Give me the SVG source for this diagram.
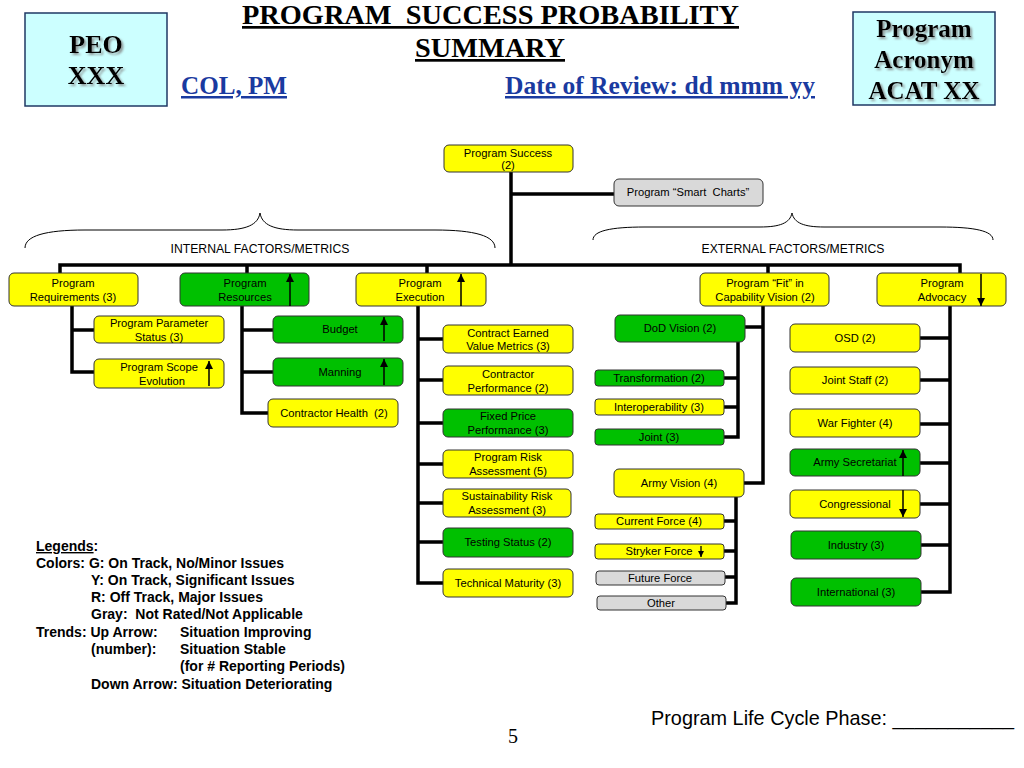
<svg xmlns="http://www.w3.org/2000/svg" width="1024" height="768" viewBox="0 0 1024 768">
<style>
.y{fill:#ffff00;stroke:#333;stroke-width:1}
.g{fill:#00c000;stroke:#333;stroke-width:1}
.gr{fill:#d9d9d9;stroke:#333;stroke-width:1}
.t{font-family:"Liberation Sans",Arial,sans-serif;font-size:11.2px;text-anchor:middle;fill:#000;white-space:pre}
.c{stroke:#000;stroke-width:3.5;fill:none;stroke-linejoin:miter}
.ar{stroke:#000;stroke-width:1.5;fill:none;marker-end:url(#ah)}
.hd{font-family:"Liberation Serif","Times New Roman",serif;font-weight:bold;fill:#000}
.lg{font-family:"Liberation Sans",Arial,sans-serif;font-weight:bold;font-size:14px;fill:#000}
.hb{fill:#ccffff;stroke:#1f3864;stroke-width:1.5}
.br{stroke:#000;stroke-width:1;fill:none}
</style>
<defs>
<marker id="ah" viewBox="0 0 8 8" refX="8" refY="4" markerWidth="8" markerHeight="8" markerUnits="userSpaceOnUse" orient="auto">
<path d="M0,0 L8,4 L0,8 z" fill="#000"/>
</marker>
<marker id="ahs" viewBox="0 0 8 8" refX="8" refY="4" markerWidth="6" markerHeight="6" markerUnits="userSpaceOnUse" orient="auto">
<path d="M0,0 L8,4 L0,8 z" fill="#000"/>
</marker>
<filter id="sh" x="-20%" y="-20%" width="140%" height="140%">
<feDropShadow dx="2" dy="2" stdDeviation="1" flood-color="#808080" flood-opacity="0.8"/>
</filter>
</defs>
<rect width="1024" height="768" fill="#fff"/>

<g id="header">
<rect class="hb" x="25" y="13" width="142" height="93"/>
<text class="hd" font-size="26" text-anchor="middle" filter="url(#sh)"><tspan x="96" y="53">PEO</tspan><tspan x="96" y="84">XXX</tspan></text>
<rect class="hb" x="853" y="12" width="142" height="93"/>
<text class="hd" font-size="25" text-anchor="middle" filter="url(#sh)"><tspan x="924" y="37">Program</tspan><tspan x="924" y="68">Acronym</tspan><tspan x="924" y="99">ACAT XX</tspan></text>
<text class="hd" font-size="27" x="242" y="24" textLength="497" lengthAdjust="spacingAndGlyphs" text-decoration="underline" style="white-space:pre">PROGRAM  SUCCESS PROBABILITY</text>
<text class="hd" font-size="27" x="415" y="57" textLength="150" lengthAdjust="spacingAndGlyphs" text-decoration="underline">SUMMARY</text>
<text class="hd" font-size="25" x="181" y="94" style="fill:#1a3aa0" textLength="106" lengthAdjust="spacingAndGlyphs" text-decoration="underline">COL, PM</text>
<text class="hd" font-size="25" x="505" y="94" style="fill:#1a3aa0" textLength="310" lengthAdjust="spacingAndGlyphs" text-decoration="underline">Date of Review: dd mmm yy</text>
</g>

<g id="braces">
<path class="br" d="M25,248 C25,236 45,230 85,230 L222,230 C246,230 258,225 260,213 C262,225 274,230 298,230 L435,230 C475,230 495,236 495,248"/>
<text class="t" style="font-size:12.2px" x="260" y="253">INTERNAL FACTORS/METRICS</text>
<path class="br" d="M593,240 C593,231 610,227 645,227 L760,227 C780,227 790,223 792,213 C794,223 804,227 824,227 L940,227 C975,227 993,231 993,240"/>
<text class="t" style="font-size:12.2px" x="793" y="253">EXTERNAL FACTORS/METRICS</text>
</g>

<g id="connectors">
<path class="c" d="M511,172 V265"/>
<path class="c" d="M511,194 H614"/>
<path class="c" d="M60,273 V265 H960 V273"/>
<path class="c" d="M247,265 V273 M427,265 V273 M768,265 V273"/>
<path class="c" d="M72,306 V372 H94 M72,330 H94"/>
<path class="c" d="M242,306 V413 H268 M242,330 H273 M242,372 H273"/>
<path class="c" d="M418,306 V583 H443 M418,339 H443 M418,380 H443 M418,423 H443 M418,464 H443 M418,503 H443 M418,542 H443"/>
<path class="c" d="M763,306 V483 H744 M745,327 H763"/>
<path class="c" d="M738,342 V437 H724 M724,378 H738 M724,407 H738"/>
<path class="c" d="M736,497 V603 H726 M724,521 H736 M724,551 H736 M725,577 H736"/>
<path class="c" d="M950,306 V592 H921 M920,338 H950 M920,380 H950 M920,424 H950 M920,463 H950 M920,504 H950 M921,545 H950"/>
</g>

<g id="n-program-success"><rect class="y" x="444" y="145" width="129" height="27" rx="5"/><text class="t"><tspan x="508" y="157">Program Success</tspan><tspan x="508" y="169">(2)</tspan></text></g>
<g id="n-smart-charts"><rect class="gr" x="614" y="179" width="149" height="27" rx="5"/><text class="t" x="688" y="196">Program “Smart  Charts”</text></g>

<g id="n-requirements"><rect class="y" x="9" y="273" width="129" height="33" rx="5"/><text class="t"><tspan x="73" y="287">Program</tspan><tspan x="73" y="301">Requirements (3)</tspan></text></g>
<g id="n-resources"><rect class="g" x="180" y="273" width="129" height="33" rx="5"/><text class="t"><tspan x="245" y="287">Program</tspan><tspan x="245" y="301">Resources</tspan></text><line class="ar" x1="290" y1="306" x2="290" y2="274"/></g>
<g id="n-execution"><rect class="y" x="356" y="273" width="130" height="33" rx="5"/><text class="t"><tspan x="420" y="287">Program</tspan><tspan x="420" y="301">Execution</tspan></text><line class="ar" x1="461" y1="306" x2="461" y2="274"/></g>
<g id="n-fit"><rect class="y" x="700" y="273" width="129" height="33" rx="5"/><text class="t"><tspan x="765" y="287">Program “Fit” in</tspan><tspan x="765" y="301">Capability Vision (2)</tspan></text></g>
<g id="n-advocacy"><rect class="y" x="877" y="273" width="129" height="33" rx="5"/><text class="t"><tspan x="942" y="287">Program</tspan><tspan x="942" y="301">Advocacy</tspan></text><line class="ar" x1="981" y1="274" x2="981" y2="306"/></g>

<g id="n-param-status"><rect class="y" x="94" y="316" width="130" height="27" rx="5"/><text class="t"><tspan x="159" y="327">Program Parameter</tspan><tspan x="159" y="341">Status (3)</tspan></text></g>
<g id="n-scope"><rect class="y" x="94" y="359" width="130" height="29" rx="5"/><text class="t"><tspan x="159" y="371">Program Scope</tspan><tspan x="162" y="385">Evolution</tspan></text><line class="ar" x1="209" y1="386" x2="209" y2="361"/></g>
<g id="n-budget"><rect class="g" x="273" y="316" width="130" height="27" rx="5"/><text class="t" x="340" y="333">Budget</text><line class="ar" x1="384" y1="341" x2="384" y2="317"/></g>
<g id="n-manning"><rect class="g" x="273" y="358" width="130" height="28" rx="5"/><text class="t" x="340" y="376">Manning</text><line class="ar" x1="384" y1="385" x2="384" y2="359"/></g>
<g id="n-contractor-health"><rect class="y" x="268" y="399" width="130" height="28" rx="5"/><text class="t" x="334" y="417">Contractor Health  (2)</text></g>

<g id="n-cev"><rect class="y" x="443" y="325" width="130" height="28" rx="5"/><text class="t"><tspan x="508" y="337">Contract Earned</tspan><tspan x="508" y="350">Value Metrics (3)</tspan></text></g>
<g id="n-cp"><rect class="y" x="443" y="366" width="130" height="29" rx="5"/><text class="t"><tspan x="508" y="378">Contractor</tspan><tspan x="508" y="392">Performance (2)</tspan></text></g>
<g id="n-fpp"><rect class="g" x="443" y="409" width="130" height="28" rx="5"/><text class="t"><tspan x="508" y="420">Fixed Price</tspan><tspan x="508" y="434">Performance (3)</tspan></text></g>
<g id="n-pra"><rect class="y" x="443" y="450" width="130" height="28" rx="5"/><text class="t"><tspan x="508" y="461">Program Risk</tspan><tspan x="508" y="475">Assessment (5)</tspan></text></g>
<g id="n-sra"><rect class="y" x="443" y="489" width="128" height="28" rx="5"/><text class="t"><tspan x="507" y="500">Sustainability Risk</tspan><tspan x="507" y="514">Assessment (3)</tspan></text></g>
<g id="n-testing"><rect class="g" x="443" y="528" width="130" height="29" rx="5"/><text class="t" x="508" y="546">Testing Status (2)</text></g>
<g id="n-tech"><rect class="y" x="443" y="569" width="130" height="28" rx="5"/><text class="t" x="508" y="587">Technical Maturity (3)</text></g>

<g id="n-dod"><rect class="g" x="615" y="315" width="130" height="27" rx="5"/><text class="t" x="680" y="332">DoD Vision (2)</text></g>
<g id="n-transformation"><rect class="g" x="595" y="370" width="129" height="16" rx="3"/><text class="t" x="659" y="382">Transformation (2)</text></g>
<g id="n-interop"><rect class="y" x="595" y="399" width="129" height="16" rx="3"/><text class="t" x="659" y="411">Interoperability (3)</text></g>
<g id="n-joint"><rect class="g" x="595" y="429" width="129" height="16" rx="3"/><text class="t" x="659" y="441">Joint (3)</text></g>
<g id="n-army-vision"><rect class="y" x="614" y="469" width="130" height="28" rx="5"/><text class="t" x="679" y="487">Army Vision (4)</text></g>
<g id="n-current"><rect class="y" x="595" y="514" width="129" height="15" rx="3"/><text class="t" x="659" y="525">Current Force (4)</text></g>
<g id="n-stryker"><rect class="y" x="595" y="544" width="129" height="15" rx="3"/><text class="t" x="659" y="555">Stryker Force</text><line x1="701" y1="546" x2="701" y2="557" stroke="#000" stroke-width="1.3" marker-end="url(#ahs)"/></g>
<g id="n-future"><rect class="gr" x="596" y="571" width="129" height="14" rx="3"/><text class="t" x="660" y="582">Future Force</text></g>
<g id="n-other"><rect class="gr" x="597" y="596" width="129" height="14" rx="3"/><text class="t" x="661" y="607">Other</text></g>

<g id="n-osd"><rect class="y" x="790" y="324" width="130" height="28" rx="5"/><text class="t" x="855" y="342">OSD (2)</text></g>
<g id="n-joint-staff"><rect class="y" x="790" y="367" width="130" height="27" rx="5"/><text class="t" x="855" y="384">Joint Staff (2)</text></g>
<g id="n-war-fighter"><rect class="y" x="790" y="409" width="130" height="28" rx="5"/><text class="t" x="855" y="427">War Fighter (4)</text></g>
<g id="n-army-sec"><rect class="g" x="790" y="449" width="130" height="27" rx="5"/><text class="t" x="855" y="466">Army Secretariat</text><line class="ar" x1="903" y1="476" x2="903" y2="450"/></g>
<g id="n-congressional"><rect class="y" x="790" y="490" width="130" height="28" rx="5"/><text class="t" x="855" y="508">Congressional</text><line class="ar" x1="903" y1="490" x2="903" y2="517"/></g>
<g id="n-industry"><rect class="g" x="791" y="531" width="130" height="28" rx="5"/><text class="t" x="856" y="549">Industry (3)</text></g>
<g id="n-international"><rect class="g" x="791" y="578" width="130" height="28" rx="5"/><text class="t" x="856" y="596">International (3)</text></g>

<g id="legend">
<text class="lg" x="36" y="551"><tspan text-decoration="underline">Legends</tspan>:</text>
<text class="lg" x="36" y="568">Colors: G: On Track, No/Minor Issues</text>
<text class="lg" x="91" y="585">Y: On Track, Significant Issues</text>
<text class="lg" x="91" y="602">R: Off Track, Major Issues</text>
<text class="lg" x="91" y="619" style="white-space:pre">Gray:  Not Rated/Not Applicable</text>
<text class="lg" x="36" y="637">Trends: Up Arrow:</text>
<text class="lg" x="180" y="637">Situation Improving</text>
<text class="lg" x="91" y="654">(number):</text>
<text class="lg" x="180" y="654">Situation Stable</text>
<text class="lg" x="180" y="671">(for # Reporting Periods)</text>
<text class="lg" x="91" y="689">Down Arrow: Situation Deteriorating</text>
</g>

<g id="footer">
<text x="651" y="725" font-family="Liberation Sans, Arial, sans-serif" font-size="19.8" textLength="363" lengthAdjust="spacingAndGlyphs" fill="#000">Program Life Cycle Phase: ___________</text>
<text x="513" y="743" font-family="Liberation Serif, Times New Roman, serif" font-size="20" text-anchor="middle" fill="#000">5</text>
</g>
</svg>
